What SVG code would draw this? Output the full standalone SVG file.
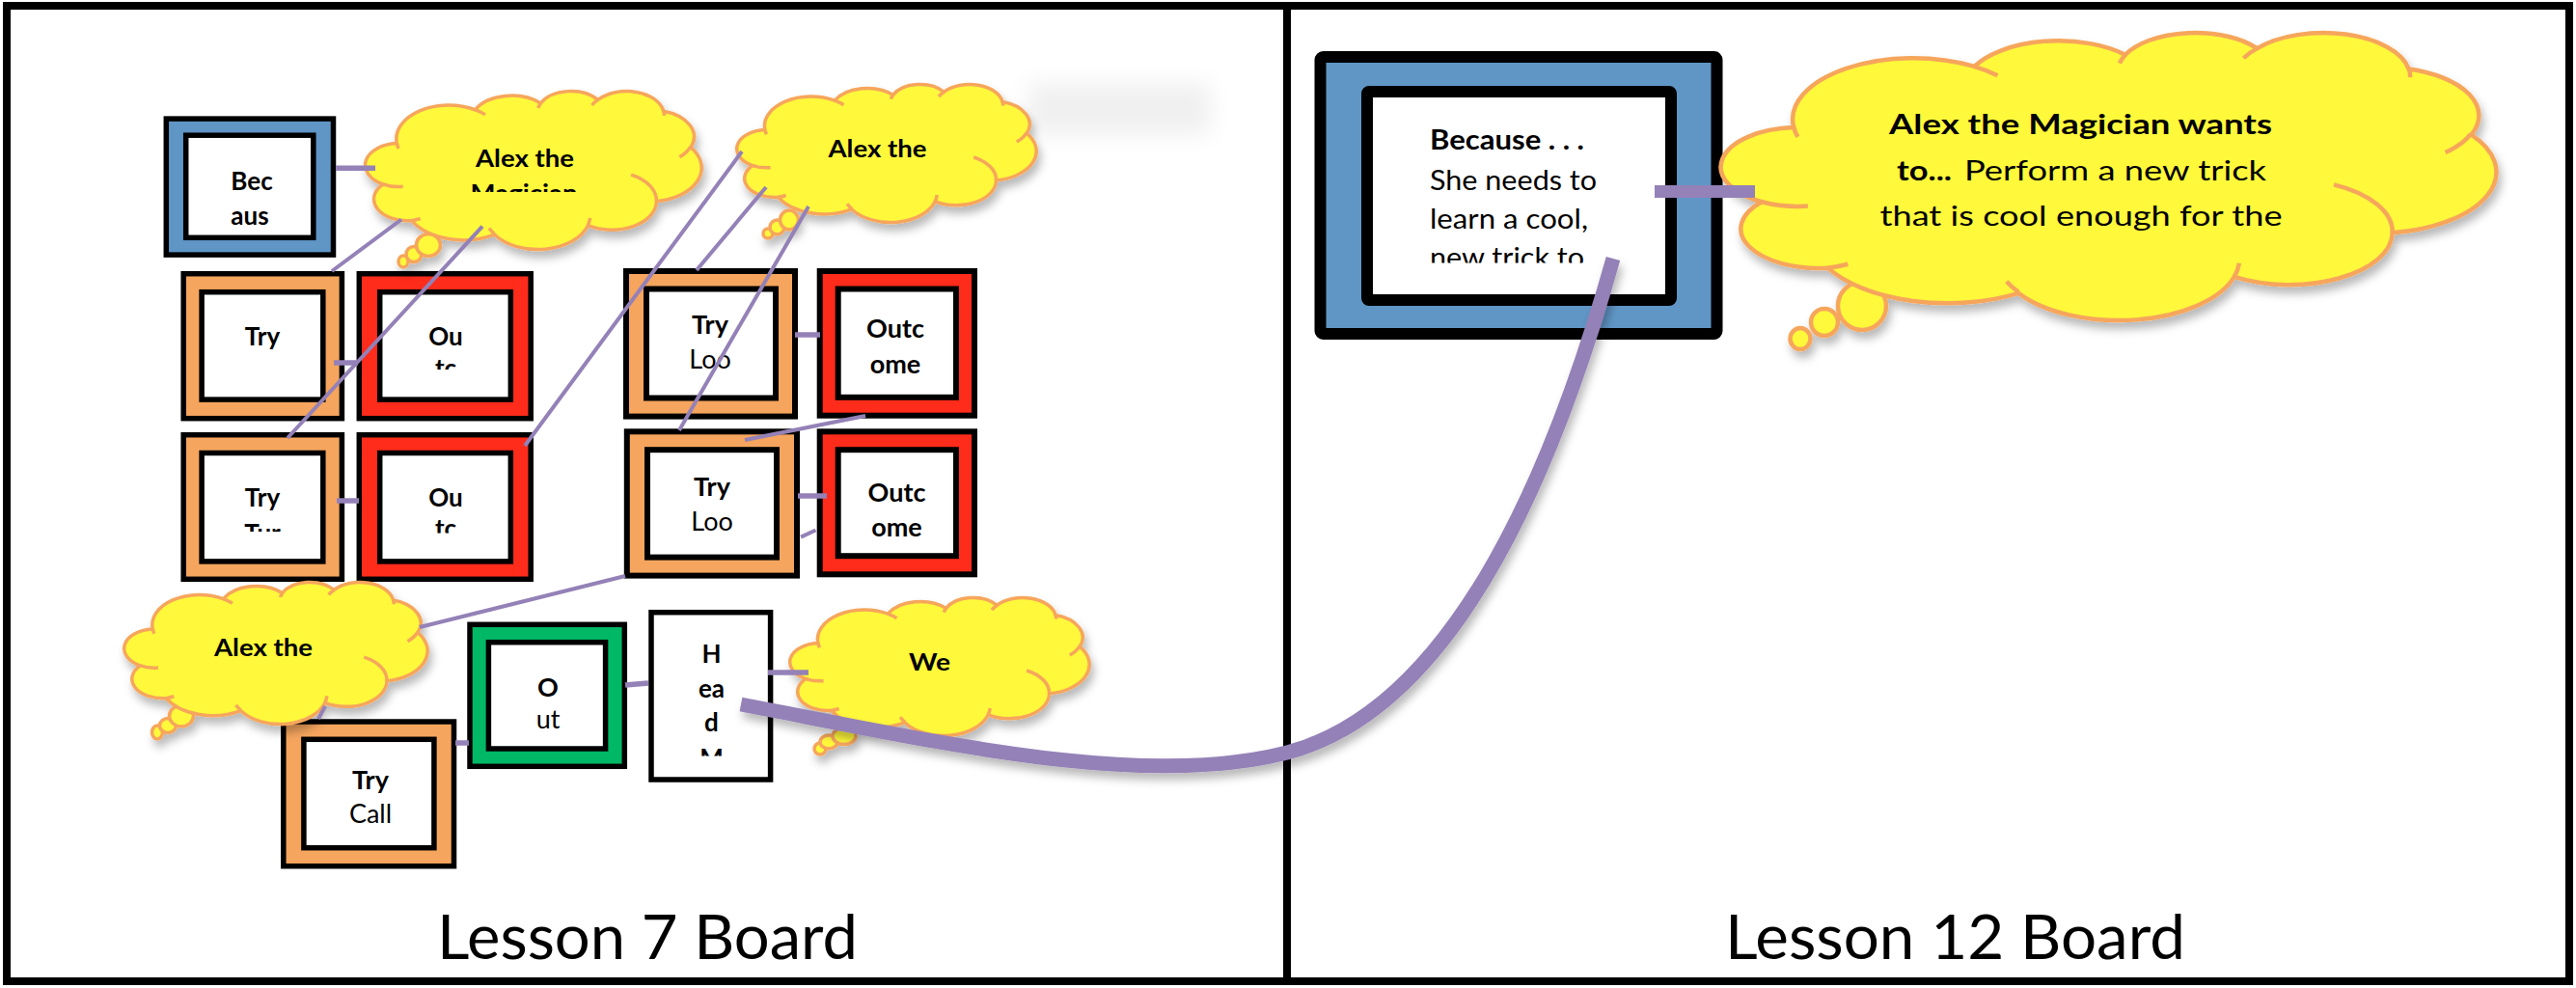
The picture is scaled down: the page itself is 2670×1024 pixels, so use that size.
<svg xmlns="http://www.w3.org/2000/svg" width="2670" height="1024" viewBox="0 0 2670 1024">
<defs>
<style>
.bx{stroke:#000;stroke-width:5.5}
.bx6{stroke:#000;stroke-width:6}
.blue{fill:#6096C6}.org{fill:#F5A55E}.red{fill:#FF2B1B}.grn{fill:#00B865}.wht{fill:#fff}
.cf{fill:#FFF83B;stroke:#F6A65B;stroke-width:3.5;vector-effect:non-scaling-stroke}
.ci{fill:none;stroke:#F6A65B;stroke-width:3.5;vector-effect:non-scaling-stroke}
.t{font-family:Lato,"Open Sans","DejaVu Sans",sans-serif;fill:#000}
.b{font-weight:700}.r{font-weight:400}
.m{text-anchor:middle}
.conn line,.conn path{stroke:#9481B7;fill:none;stroke-width:4}
.stub{stroke-width:5.5 !important}
</style>
<filter id="sh" x="-20%" y="-20%" width="140%" height="150%"><feDropShadow dx="3" dy="7" stdDeviation="5" flood-color="#000" flood-opacity="0.28"/></filter>
<filter id="blur" x="-40%" y="-100%" width="180%" height="300%"><feGaussianBlur stdDeviation="12"/></filter>
<clipPath id="c1"><rect x="380" y="90" width="347" height="109"/></clipPath>
<clipPath id="cOu1"><rect x="394" y="300" width="135" height="83"/></clipPath>
<clipPath id="cTr2"><rect x="209" y="466" width="126" height="85"/></clipPath>
<clipPath id="cOu2"><rect x="394" y="466" width="135" height="86.5"/></clipPath>
<clipPath id="cHd"><rect x="678" y="636" width="118" height="147.5"/></clipPath>
<clipPath id="cBc"><rect x="1423" y="100" width="305" height="172.5"/></clipPath>
</defs>
<rect width="2670" height="1024" fill="#fff"/>
<rect x="1065" y="86" width="190" height="54" fill="#000" opacity="0.06" filter="url(#blur)"/>
<g id="frame">
<rect x="7" y="6" width="2656" height="1011" fill="none" stroke="#000" stroke-width="8"/>
<line x1="1334" y1="6" x2="1334" y2="1017" stroke="#000" stroke-width="8"/>
</g>
<g id="bec">
<rect class="bx blue" x="172.3" y="123.1" width="173.2" height="141"/>
<rect class="bx wht" x="192.7" y="140.2" width="132.1" height="106.1"/>
<text class="t b m" x="261" y="197" font-size="26">Bec</text>
<text class="t b m" x="259" y="233" font-size="26">aus</text>
</g>
<g id="try1">
<rect class="bx org" x="190.2" y="283.7" width="164.2" height="150"/>
<rect class="bx wht" x="209.1" y="302.7" width="125.7" height="111.4"/>
<text class="t b m" x="272" y="357.5" font-size="26">Try</text>
</g>
<g id="ou1">
<rect class="bx red" x="372.3" y="283.7" width="177.9" height="150"/>
<rect class="bx wht" x="393.7" y="302.7" width="135.6" height="111.4"/>
<text class="t b m" x="462" y="357.5" font-size="26">Ou</text>
<text class="t b m" x="462" y="391" font-size="26" clip-path="url(#cOu1)">tc</text>
</g>
<g id="try2">
<rect class="bx org" x="190.2" y="450.7" width="164.2" height="149.6"/>
<rect class="bx wht" x="209.1" y="469.5" width="125.7" height="112.4"/>
<text class="t b m" x="272" y="525" font-size="26">Try</text>
<text class="t b m" x="272" y="562" font-size="26" clip-path="url(#cTr2)">Tur</text>
</g>
<g id="ou2">
<rect class="bx red" x="372.3" y="450.7" width="177.9" height="149.6"/>
<rect class="bx wht" x="393.7" y="469.5" width="135.6" height="112.4"/>
<text class="t b m" x="462" y="525" font-size="26">Ou</text>
<text class="t b m" x="462" y="557" font-size="26" clip-path="url(#cOu2)">tc</text>
</g>
<g id="tryloo1">
<rect class="bx6 org" x="649" y="281" width="175" height="150.6"/>
<rect class="bx6 wht" x="670" y="299.5" width="134" height="113"/>
<text class="t b m" x="736" y="346" font-size="27">Try</text>
<text class="t r m" x="736" y="382" font-size="27">Loo</text>
</g>
<g id="outcome1">
<rect class="bx6 red" x="849.7" y="281" width="160.3" height="149.7"/>
<rect class="bx6 wht" x="868.7" y="299.5" width="122.3" height="112.3"/>
<text class="t b m" x="928" y="350.4" font-size="27">Outc</text>
<text class="t b m" x="928" y="387.4" font-size="27">ome</text>
</g>
<g id="tryloo2">
<rect class="bx6 org" x="649.8" y="447.3" width="176.2" height="149.3"/>
<rect class="bx6 wht" x="671" y="466.2" width="134" height="111.4"/>
<text class="t b m" x="738" y="513.7" font-size="27">Try</text>
<text class="t r m" x="738" y="549.5" font-size="27">Loo</text>
</g>
<g id="outcome2">
<rect class="bx6 red" x="849.7" y="447.3" width="160.3" height="148"/>
<rect class="bx6 wht" x="868.7" y="466.2" width="122.3" height="110"/>
<text class="t b m" x="929.5" y="520" font-size="27">Outc</text>
<text class="t b m" x="929.5" y="555.8" font-size="27">ome</text>
</g>
<g id="trycall">
<rect class="bx org" x="293.8" y="748" width="176.7" height="149.7"/>
<rect class="bx wht" x="314.9" y="766.3" width="135" height="112.4"/>
<text class="t b m" x="384" y="818.3" font-size="27">Try</text>
<text class="t r m" x="384" y="853.3" font-size="27">Call</text>
</g>
<g id="outgreen">
<rect class="bx grn" x="487" y="647.3" width="160.3" height="147"/>
<rect class="bx wht" x="506.4" y="665.7" width="121.2" height="110.3"/>
<text class="t b m" x="568" y="721.7" font-size="27">O</text>
<text class="t r m" x="568" y="755" font-size="27">ut</text>
</g>
<g id="head">
<rect class="bx wht" x="675" y="634.7" width="123.6" height="173.3"/>
<text class="t b m" x="737.5" y="686.7" font-size="26">H</text>
<text class="t b m" x="737.5" y="723.3" font-size="26">ea</text>
<text class="t b m" x="737.5" y="758.3" font-size="26">d</text>
<text class="t b m" x="737.5" y="794.7" font-size="26" clip-path="url(#cHd)">M</text>
</g>
<g id="cloud1">
<g filter="url(#sh)">
<ellipse class="cf" cx="418" cy="271" rx="5" ry="6"/>
<ellipse class="cf" cx="429" cy="263.5" rx="8" ry="8"/>
<ellipse class="cf" cx="444" cy="254" rx="12.5" ry="11.5"/>
<path class="cf" transform="translate(380 94) scale(3.47 1.64)" d="M9.03 33.26A15.63 21.27 0 0 1 32.42 12.04A12.34 16.82 0 0 1 51.98 7.95A10.1 13.76 0 0 1 69.06 5.75A11.24 15.27 0 0 1 88.7 12.9A12.35 16.84 0 0 1 96.81 35.78A15.68 21.34 0 0 1 86.59 69.91A13.39 18.21 0 0 1 66.1 85.21A15.63 21.33 0 0 1 38.15 90.89A17.87 24.41 0 0 1 13.44 82.1A10.09 13.7 0 0 1 4.89 59.13A10.06 13.76 0 0 1 9.03 33.26Z"/>
</g>
<path class="ci" transform="translate(380 94) scale(3.47 1.64)" d="M10.86 60.59A10.06 13.76 0 0 1 4.89 59.13M16.04 80.78A10.09 13.7 0 0 1 13.44 82.1M38.14 90.49A15.63 21.33 0 0 1 36.6 86.85M66.73 80.44A15.63 21.33 0 0 1 66.1 85.21M79 53.13A13.39 18.21 0 0 1 86.59 69.91M96.75 35.54A12.35 16.84 0 0 1 93.45 41.97M88.71 12.56A11.24 15.27 0 0 1 88.88 15.83M67.31 9.15A11.24 15.27 0 0 1 69.06 5.75M51.25 10.93A10.1 13.76 0 0 1 51.98 7.95M32.41 12.02A15.63 21.27 0 0 1 35.43 15.17M9.55 36.55A15.63 21.27 0 0 1 9.03 33.26"/>
<text class="t b" x="493" y="173" font-size="25" textLength="102" lengthAdjust="spacingAndGlyphs">Alex the</text>
<text class="t b" x="487.5" y="209" font-size="25" textLength="111" lengthAdjust="spacingAndGlyphs" clip-path="url(#c1)">Magician</text>
</g>
<g id="cloud2">
<g filter="url(#sh)">
<ellipse class="cf" cx="796" cy="242" rx="5" ry="5"/>
<ellipse class="cf" cx="805.5" cy="235.5" rx="7.5" ry="7.5"/>
<ellipse class="cf" cx="818" cy="228" rx="9.5" ry="10"/>
<path class="cf" transform="translate(765 87) scale(3.09 1.43)" d="M9.03 33.26A15.63 21.27 0 0 1 32.42 12.04A12.34 16.82 0 0 1 51.98 7.95A10.1 13.76 0 0 1 69.06 5.75A11.24 15.27 0 0 1 88.7 12.9A12.35 16.84 0 0 1 96.81 35.78A15.68 21.34 0 0 1 86.59 69.91A13.39 18.21 0 0 1 66.1 85.21A15.63 21.33 0 0 1 38.15 90.89A17.87 24.41 0 0 1 13.44 82.1A10.09 13.7 0 0 1 4.89 59.13A10.06 13.76 0 0 1 9.03 33.26Z"/>
</g>
<path class="ci" transform="translate(765 87) scale(3.09 1.43)" d="M10.86 60.59A10.06 13.76 0 0 1 4.89 59.13M16.04 80.78A10.09 13.7 0 0 1 13.44 82.1M38.14 90.49A15.63 21.33 0 0 1 36.6 86.85M66.73 80.44A15.63 21.33 0 0 1 66.1 85.21M79 53.13A13.39 18.21 0 0 1 86.59 69.91M96.75 35.54A12.35 16.84 0 0 1 93.45 41.97M88.71 12.56A11.24 15.27 0 0 1 88.88 15.83M67.31 9.15A11.24 15.27 0 0 1 69.06 5.75M51.25 10.93A10.1 13.76 0 0 1 51.98 7.95M32.41 12.02A15.63 21.27 0 0 1 35.43 15.17M9.55 36.55A15.63 21.27 0 0 1 9.03 33.26"/>
<text class="t b" x="858.5" y="163" font-size="25" textLength="102" lengthAdjust="spacingAndGlyphs">Alex the</text>
</g>
<g id="cloud3">
<g filter="url(#sh)">
<ellipse class="cf" cx="163" cy="759" rx="5.5" ry="7"/>
<ellipse class="cf" cx="174" cy="752" rx="8.5" ry="7.5"/>
<ellipse class="cf" cx="188" cy="742" rx="12.5" ry="11"/>
<path class="cf" transform="translate(130 603) scale(3.13 1.47)" d="M9.03 33.26A15.63 21.27 0 0 1 32.42 12.04A12.34 16.82 0 0 1 51.98 7.95A10.1 13.76 0 0 1 69.06 5.75A11.24 15.27 0 0 1 88.7 12.9A12.35 16.84 0 0 1 96.81 35.78A15.68 21.34 0 0 1 86.59 69.91A13.39 18.21 0 0 1 66.1 85.21A15.63 21.33 0 0 1 38.15 90.89A17.87 24.41 0 0 1 13.44 82.1A10.09 13.7 0 0 1 4.89 59.13A10.06 13.76 0 0 1 9.03 33.26Z"/>
</g>
<path class="ci" transform="translate(130 603) scale(3.13 1.47)" d="M10.86 60.59A10.06 13.76 0 0 1 4.89 59.13M16.04 80.78A10.09 13.7 0 0 1 13.44 82.1M38.14 90.49A15.63 21.33 0 0 1 36.6 86.85M66.73 80.44A15.63 21.33 0 0 1 66.1 85.21M79 53.13A13.39 18.21 0 0 1 86.59 69.91M96.75 35.54A12.35 16.84 0 0 1 93.45 41.97M88.71 12.56A11.24 15.27 0 0 1 88.88 15.83M67.31 9.15A11.24 15.27 0 0 1 69.06 5.75M51.25 10.93A10.1 13.76 0 0 1 51.98 7.95M32.41 12.02A15.63 21.27 0 0 1 35.43 15.17M9.55 36.55A15.63 21.27 0 0 1 9.03 33.26"/>
<text class="t b" x="222" y="680" font-size="25" textLength="102" lengthAdjust="spacingAndGlyphs">Alex the</text>
</g>
<g id="cloudWe">
<g filter="url(#sh)">
<ellipse class="cf" cx="850" cy="776" rx="6" ry="6"/>
<ellipse class="cf" cx="859" cy="769" rx="9" ry="7"/>
<ellipse class="cf" cx="875" cy="763" rx="12" ry="8.5"/>
<path class="cf" transform="translate(820 619) scale(3.09 1.43)" d="M9.03 33.26A15.63 21.27 0 0 1 32.42 12.04A12.34 16.82 0 0 1 51.98 7.95A10.1 13.76 0 0 1 69.06 5.75A11.24 15.27 0 0 1 88.7 12.9A12.35 16.84 0 0 1 96.81 35.78A15.68 21.34 0 0 1 86.59 69.91A13.39 18.21 0 0 1 66.1 85.21A15.63 21.33 0 0 1 38.15 90.89A17.87 24.41 0 0 1 13.44 82.1A10.09 13.7 0 0 1 4.89 59.13A10.06 13.76 0 0 1 9.03 33.26Z"/>
</g>
<path class="ci" transform="translate(820 619) scale(3.09 1.43)" d="M10.86 60.59A10.06 13.76 0 0 1 4.89 59.13M16.04 80.78A10.09 13.7 0 0 1 13.44 82.1M38.14 90.49A15.63 21.33 0 0 1 36.6 86.85M66.73 80.44A15.63 21.33 0 0 1 66.1 85.21M79 53.13A13.39 18.21 0 0 1 86.59 69.91M96.75 35.54A12.35 16.84 0 0 1 93.45 41.97M88.71 12.56A11.24 15.27 0 0 1 88.88 15.83M67.31 9.15A11.24 15.27 0 0 1 69.06 5.75M51.25 10.93A10.1 13.76 0 0 1 51.98 7.95M32.41 12.02A15.63 21.27 0 0 1 35.43 15.17M9.55 36.55A15.63 21.27 0 0 1 9.03 33.26"/>
<text class="t b" x="942" y="695.4" font-size="25" textLength="43" lengthAdjust="spacingAndGlyphs">We</text>
</g>
<g id="because">
<rect x="1368.5" y="59" width="411" height="287" rx="3" fill="#6096C6" stroke="#000" stroke-width="12"/>
<rect x="1417" y="95" width="315" height="216" rx="2" fill="#fff" stroke="#000" stroke-width="12"/>
<text class="t b" x="1482" y="155" font-size="29" textLength="160" lengthAdjust="spacingAndGlyphs">Because . . .</text>
<text class="t r" x="1482" y="197" font-size="29" textLength="173" lengthAdjust="spacingAndGlyphs">She needs to</text>
<text class="t r" x="1482" y="236.7" font-size="29" textLength="164" lengthAdjust="spacingAndGlyphs">learn a cool,</text>
<text class="t r" x="1482" y="277" font-size="29" textLength="160" lengthAdjust="spacingAndGlyphs" clip-path="url(#cBc)">new trick to</text>
</g>
<g id="cloudBig">
<g filter="url(#sh)">
<ellipse class="cf" cx="1866" cy="351" rx="10.5" ry="11" style="stroke-width:4.5"/>
<ellipse class="cf" cx="1891" cy="334" rx="14" ry="14" style="stroke-width:4.5"/>
<ellipse class="cf" cx="1930" cy="317" rx="25" ry="25" style="stroke-width:4.5"/>
<path class="cf" style="stroke-width:4.5" transform="translate(1787 33) scale(8 2.98)" d="M9.03 33.26A15.63 21.27 0 0 1 32.42 12.04A12.34 16.82 0 0 1 51.98 7.95A10.1 13.76 0 0 1 69.06 5.75A11.24 15.27 0 0 1 88.7 12.9A12.35 16.84 0 0 1 96.81 35.78A15.68 21.34 0 0 1 86.59 69.91A13.39 18.21 0 0 1 66.1 85.21A15.63 21.33 0 0 1 38.15 90.89A17.87 24.41 0 0 1 13.44 82.1A10.09 13.7 0 0 1 4.89 59.13A10.06 13.76 0 0 1 9.03 33.26Z"/>
</g>
<path class="ci" style="stroke-width:4.5" transform="translate(1787 33) scale(8 2.98)" d="M10.86 60.59A10.06 13.76 0 0 1 4.89 59.13M16.04 80.78A10.09 13.7 0 0 1 13.44 82.1M38.14 90.49A15.63 21.33 0 0 1 36.6 86.85M66.73 80.44A15.63 21.33 0 0 1 66.1 85.21M79 53.13A13.39 18.21 0 0 1 86.59 69.91M96.75 35.54A12.35 16.84 0 0 1 93.45 41.97M88.71 12.56A11.24 15.27 0 0 1 88.88 15.83M67.31 9.15A11.24 15.27 0 0 1 69.06 5.75M51.25 10.93A10.1 13.76 0 0 1 51.98 7.95M32.41 12.02A15.63 21.27 0 0 1 35.43 15.17M9.55 36.55A15.63 21.27 0 0 1 9.03 33.26"/>
<text class="t b" x="1958" y="139" font-size="29" textLength="397" lengthAdjust="spacingAndGlyphs">Alex the Magician wants</text>
<text class="t b" x="1966" y="187" font-size="29" textLength="57" lengthAdjust="spacingAndGlyphs">to...</text>
<text class="t r" x="2036" y="187" font-size="29" textLength="313" lengthAdjust="spacingAndGlyphs">Perform a new trick</text>
<text class="t r" x="1948.5" y="234" font-size="29" textLength="417" lengthAdjust="spacingAndGlyphs">that is cool enough for the</text>
</g>
<g id="connectors" class="conn">
<line class="stub" x1="348" y1="174.3" x2="389" y2="174.3"/>
<line x1="416" y1="227.5" x2="344" y2="281"/>
<line x1="500" y1="234.6" x2="298" y2="454"/>
<line class="stub" x1="346" y1="376" x2="371" y2="376"/>
<line class="stub" x1="349" y1="519" x2="372" y2="519"/>
<line x1="769" y1="157" x2="544" y2="462"/>
<line x1="794" y1="194" x2="722" y2="280"/>
<line x1="838" y1="214" x2="704" y2="446"/>
<line class="stub" x1="824" y1="347" x2="850" y2="347"/>
<line class="stub" x1="827" y1="514" x2="857" y2="514"/>
<line x1="897" y1="431" x2="772" y2="456"/>
<line x1="845.5" y1="549.5" x2="830" y2="556.6"/>
<line x1="648" y1="597" x2="435" y2="650"/>
<line x1="337" y1="732" x2="330" y2="745"/>
<line class="stub" x1="472" y1="770" x2="486" y2="770"/>
<line class="stub" x1="648" y1="710" x2="672" y2="708"/>
<line class="stub" x1="796" y1="697" x2="838" y2="697"/>
<path filter="url(#sh)" style="stroke-width:15" d="M768 730C968 768 1184 819 1334 780C1514 733 1616 468 1672 268"/>
<line style="stroke-width:13" x1="1715" y1="198.5" x2="1819" y2="198.5"/>
</g>
<g id="labels">
<text class="t r" x="453" y="994" font-size="64" textLength="436" lengthAdjust="spacingAndGlyphs">Lesson 7 Board</text>
<text class="t r" x="1788" y="994" font-size="64" textLength="477" lengthAdjust="spacingAndGlyphs">Lesson 12 Board</text>
</g>
</svg>
